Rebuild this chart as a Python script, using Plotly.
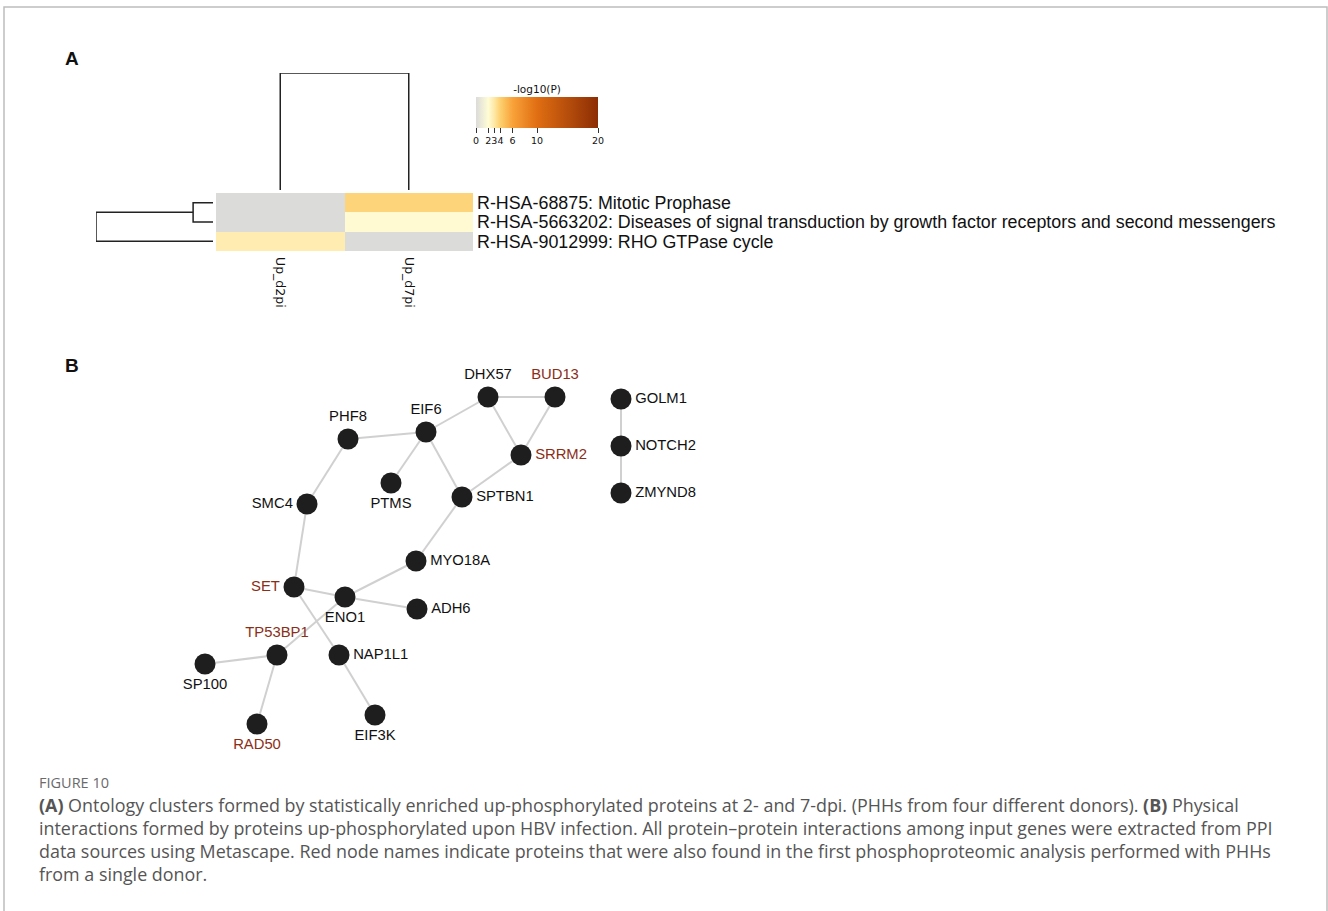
import plotly.graph_objects as go

W, H = 1328, 911

# ---- Panel A: enrichment heatmap ----
columns = ["Up_d2pi", "Up_d7pi"]
terms = [
    "R-HSA-68875: Mitotic Prophase",
    "R-HSA-5663202: Diseases of signal transduction by growth factor receptors and second messengers",
    "R-HSA-9012999: RHO GTPase cycle",
]
# -log10(P) per term (rows) and column; 0 = not enriched
neglogp = [
    [0.0, 3.8],
    [0.0, 2.1],
    [2.8, 0.0],
]
cbar_ticks = [0, 2, 3, 4, 6, 10, 20]

# dendrogram merge heights (relative)
col_merge_height = 1.0
row_merge_inner = 0.17
row_merge_outer = 1.0

# ---- Panel B: protein interaction network ----
node_names = ["PHF8", "EIF6", "DHX57", "BUD13", "SRRM2", "PTMS", "SPTBN1", "SMC4",
              "MYO18A", "SET", "ENO1", "ADH6", "TP53BP1", "SP100", "NAP1L1", "RAD50",
              "EIF3K", "GOLM1", "NOTCH2", "ZMYND8"]
node_x = [348, 426, 488, 555, 521, 391, 462, 307, 416, 294, 345, 417, 277, 205,
          339, 257, 375, 621, 621, 621]
node_y = [439, 432, 397, 397, 455, 483, 497, 504, 561, 587, 597, 609, 655, 664,
          655, 724, 715, 399, 446, 493]
label_pos = ["top center", "top center", "top center", "top center", "middle right",
             "bottom center", "middle right", "middle left", "middle right", "middle left",
             "bottom center", "middle right", "top center", "bottom center", "middle right",
             "bottom center", "bottom center", "middle right", "middle right", "middle right"]
in_first_study = ["BUD13", "SRRM2", "SET", "TP53BP1", "RAD50"]
edges = [("SET", "ENO1"), ("ENO1", "ADH6"), ("ENO1", "MYO18A"), ("MYO18A", "SPTBN1"),
         ("SPTBN1", "SRRM2"), ("SPTBN1", "EIF6"), ("EIF6", "PTMS"), ("EIF6", "PHF8"),
         ("EIF6", "DHX57"), ("DHX57", "BUD13"), ("DHX57", "SRRM2"), ("BUD13", "SRRM2"),
         ("PHF8", "SMC4"), ("SMC4", "SET"), ("SET", "NAP1L1"), ("NAP1L1", "EIF3K"),
         ("ENO1", "TP53BP1"), ("TP53BP1", "SP100"), ("TP53BP1", "RAD50"),
         ("GOLM1", "NOTCH2"), ("NOTCH2", "ZMYND8")]

caption_lines = [
    "<b>(A)</b> Ontology clusters formed by statistically enriched up-phosphorylated proteins at 2- and 7-dpi. (PHHs from four different donors). <b>(B)</b> Physical",
    "interactions formed by proteins up-phosphorylated upon HBV infection. All protein\u2013protein interactions among input genes were extracted from PPI",
    "data sources using Metascape. Red node names indicate proteins that were also found in the first phosphoproteomic analysis performed with PHHs",
    "from a single donor.",
]

RED = "#8B2E16"
DARK = "#222222"
ARIAL = "Liberation Sans, Arial, sans-serif"
CAPTION_FONT = "Open Sans, sans-serif"


def px(x):
    return x / W


def py(y):
    return 1 - y / H


colorscale = [
    [0.0, "#DBDBD9"],
    [0.1, "#FFFCD6"],
    [0.15, "#FEE8A6"],
    [0.2, "#FDCF6E"],
    [0.3, "#F9A23A"],
    [0.5, "#E06E12"],
    [1.0, "#8C2D04"],
]

fig = go.Figure()

# heatmap
fig.add_trace(go.Heatmap(
    z=neglogp, x=[0, 1], y=[0, 1, 2], coloraxis="coloraxis",
    xaxis="x2", yaxis="y2", xgap=0, ygap=0, hoverinfo="skip",
))

# column dendrogram
fig.add_trace(go.Scatter(
    x=[0, 0, 1, 1], y=[0, col_merge_height, col_merge_height, 0],
    mode="lines", line=dict(color=DARK, width=1.5), xaxis="x2", yaxis="y3",
    hoverinfo="skip", showlegend=False,
))
# row dendrogram
fig.add_trace(go.Scatter(
    x=[0, row_merge_inner, row_merge_inner, 0, None,
       row_merge_inner, row_merge_outer, row_merge_outer, 0],
    y=[0, 0, 1, 1, None, 0.5, 0.5, 2, 2],
    mode="lines", line=dict(color=DARK, width=1.5), xaxis="x3", yaxis="y2",
    hoverinfo="skip", showlegend=False,
))

# network edges
idx = {n: i for i, n in enumerate(node_names)}
ex, ey = [], []
for a, b in edges:
    ex += [node_x[idx[a]], node_x[idx[b]], None]
    ey += [node_y[idx[a]], node_y[idx[b]], None]
fig.add_trace(go.Scatter(
    x=ex, y=ey, mode="lines", line=dict(color="#D0D0D0", width=2),
    hoverinfo="skip", showlegend=False,
))
# network nodes
fig.add_trace(go.Scatter(
    x=node_x, y=node_y, mode="markers+text", text=node_names,
    textposition=label_pos,
    textfont=dict(family=ARIAL, size=14.8,
                  color=[RED if n in in_first_study else "#111111" for n in node_names]),
    marker=dict(size=21, color="#1E1E1E", line=dict(width=0)),
    hoverinfo="skip", showlegend=False,
))

annotations = [
    dict(text="<b>A</b>", x=px(72), y=py(58), xref="paper", yref="paper",
         xanchor="center", yanchor="middle",
         showarrow=False, font=dict(family=ARIAL, size=19, color="#111")),
    dict(text="<b>B</b>", x=px(72), y=py(365), xref="paper", yref="paper",
         xanchor="center", yanchor="middle",
         showarrow=False, font=dict(family=ARIAL, size=19, color="#111")),
    dict(text="FIGURE 10", x=px(37), y=py(782), xref="paper", yref="paper",
         xanchor="left", yanchor="middle", showarrow=False,
         font=dict(family=CAPTION_FONT, size=14.5, color="#6A6A6A")),
]
for i, line in enumerate(caption_lines):
    annotations.append(dict(
        text=line, x=px(37), y=py(805 + 23 * i), xref="paper", yref="paper",
        xanchor="left", yanchor="middle", showarrow=False,
        font=dict(family=CAPTION_FONT, size=17.9, color="#555555"),
    ))

fig.update_layout(
    width=W, height=H, margin=dict(l=0, r=0, t=0, b=0),
    paper_bgcolor="white", plot_bgcolor="rgba(0,0,0,0)",
    showlegend=False,
    xaxis=dict(domain=[0, 1], range=[0, W], visible=False, fixedrange=True),
    yaxis=dict(domain=[0, 1], range=[H, 0], visible=False, fixedrange=True),
    xaxis2=dict(domain=[px(216), px(473)], range=[-0.5, 1.5], anchor="y2",
                tickmode="array", tickvals=[0, 1], ticktext=columns, tickangle=90,
                showgrid=False, zeroline=False, showline=False, ticks="",
                ticklabelstandoff=5,
                tickfont=dict(family="DejaVu Sans, sans-serif", size=12.5, color="#111")),
    yaxis2=dict(domain=[py(251), py(193)], range=[2.5, -0.5], anchor="x2", side="right",
                tickmode="array", tickvals=[0, 1, 2], ticktext=terms,
                showgrid=False, zeroline=False, showline=False, ticks="",
                ticklabelstandoff=3,
                tickfont=dict(family=ARIAL, size=17.85, color="#111")),
    yaxis3=dict(domain=[py(190), py(73)], range=[0, col_merge_height], anchor="x2",
                visible=False),
    xaxis3=dict(domain=[px(96), px(213)], range=[row_merge_outer, 0], anchor="y2",
                visible=False),
    coloraxis=dict(
        colorscale=colorscale, cmin=0, cmax=20,
        colorbar=dict(
            orientation="h", x=px(537), xanchor="center", y=py(85), yanchor="top",
            len=122, lenmode="pixels", thickness=31, thicknessmode="pixels",
            xpad=0, ypad=0, outlinewidth=0,
            title=dict(text="-log10(P)", side="top",
                       font=dict(family="DejaVu Sans, sans-serif", size=10.5, color="#111")),
            tickmode="array", tickvals=cbar_ticks, ticks="outside", ticklen=5,
            tickcolor="#333", tickangle=0,
            tickfont=dict(family="DejaVu Sans, sans-serif", size=9.5, color="#111"),
        ),
    ),
    annotations=annotations,
    shapes=[dict(type="rect", xref="paper", yref="paper", x0=px(4), x1=px(1327),
                 y0=py(920), y1=py(7), line=dict(color="#BDBDBD", width=1.5),
                 layer="below")],
)

fig.write_html("out.html")
